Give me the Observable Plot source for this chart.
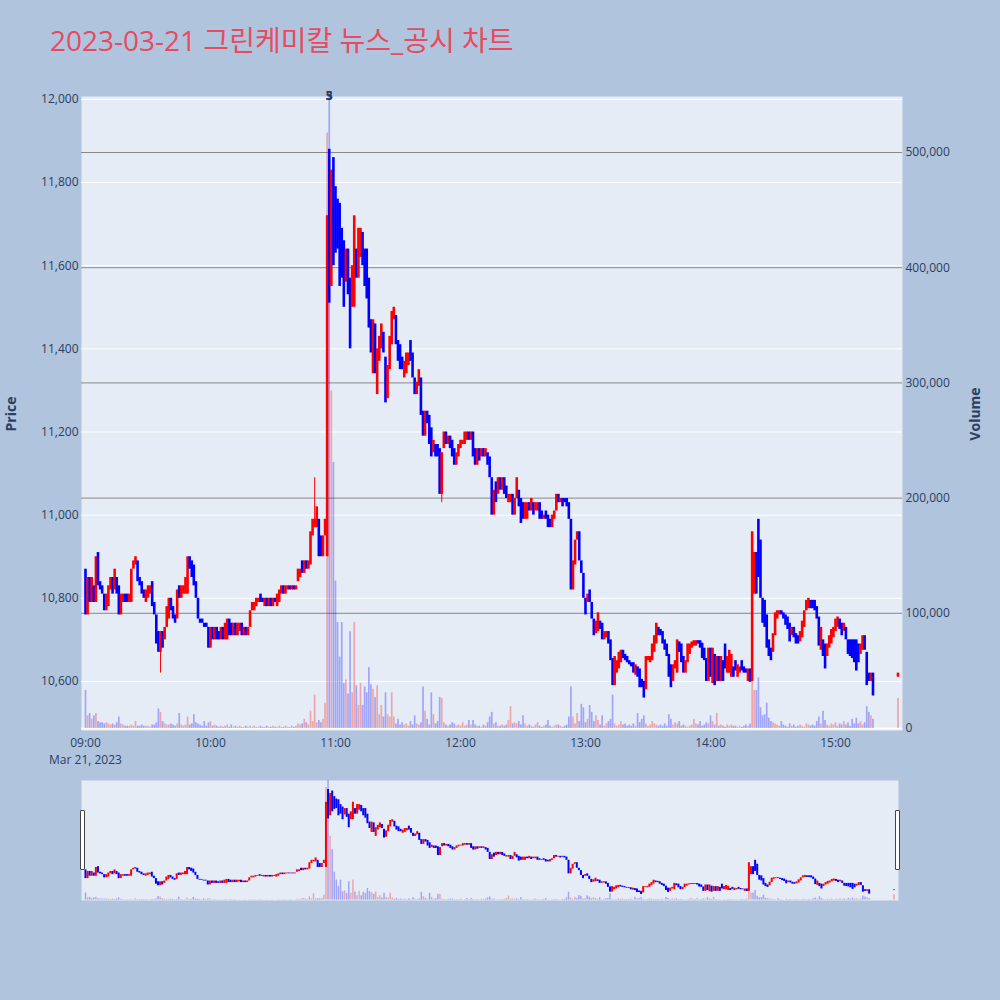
<!DOCTYPE html>
<html><head><meta charset="utf-8">
<script src="https://cdn.jsdelivr.net/npm/d3@7"></script>
<script src="https://cdn.jsdelivr.net/npm/@observablehq/plot@0.6"></script>
<style>
body{margin:0;background:#B0C4DE;}
#wrap{position:relative;width:1000px;height:1000px;background:#B0C4DE;font-family:"Open Sans","Noto Sans CJK KR",sans-serif;overflow:hidden}
.layer{position:absolute;left:0;top:0;width:1000px}
.layer svg{max-width:none !important}
#title{position:absolute;left:50px;top:26px;font-size:28px;line-height:28px;color:#E84A5F;white-space:nowrap;font-family:"Open Sans","Noto Sans CJK KR",sans-serif}
.atitle{position:absolute;font-size:14px;font-weight:bold;color:#2a3f5f;transform:translate(-50%,-50%) rotate(-90deg);white-space:nowrap}
.handle{position:absolute;width:3px;height:58px;background:#fff;border:1px solid #444;border-radius:1px}
</style></head><body>
<div id="wrap">
<div id="title">2023-03-21 그린케미칼 뉴스_공시 차트</div>
<div id="main" class="layer" style="height:770px"></div>
<div id="slider" class="layer" style="top:770px;height:140px"></div>
<div class="atitle" style="left:10px;top:414px">Price</div>
<div class="atitle" style="left:974px;top:414px">Volume</div>
<div class="handle" style="left:80px;top:810px"></div>
<div class="handle" style="left:895px;top:810px"></div>
</div>
<script>
// one-minute candles from 09:00 (index = minute after 09:00)
const opens = [
10870,10760,10850,10790,10830,10790,10910,10840,10830,10810,
10770,10780,10820,10850,10820,10850,10830,10760,10790,10810,
10810,10790,10790,10870,10880,10890,10850,10840,10820,10790,
10800,10810,10840,10790,10760,10720,10670,10720,10700,10730,
10750,10800,10780,10760,10750,10830,10800,10810,10810,10810,
10900,10890,10880,10840,10800,10750,10750,10740,10740,10730,
10680,10730,10700,10730,10720,10700,10730,10700,10700,10750,
10740,10710,10740,10710,10720,10740,10710,10730,10710,10730,
10770,10770,10780,10790,10810,10800,10780,10800,10780,10800,
10780,10800,10780,10790,10810,10830,10810,10820,10830,10820,
10830,10820,10840,10850,10890,10860,10890,10870,10880,10950,
10970,10970,10990,10950,10900,10950,10900,11880,11550,11860,
11790,11760,11750,11690,11660,11560,11640,11570,11500,11500,
11640,11570,11620,11680,11640,11640,11570,11470,11340,11460,
11290,11370,11400,11440,11380,11280,11350,11410,11470,11480,
11420,11410,11380,11330,11340,11360,11420,11390,11330,11290,
11310,11330,11250,11190,11250,11240,11210,11150,11170,11170,
11160,11050,11160,11200,11170,11190,11180,11160,11120,11140,
11160,11170,11170,11180,11200,11180,11200,11160,11120,11160,
11140,11160,11140,11150,11140,11090,11000,11080,11050,11090,
11060,11090,11070,11030,11030,11050,11000,11040,11060,11040,
11030,10990,10990,11030,11010,11030,11010,11010,11030,11010,
10990,11010,11000,10990,10970,10990,11010,11050,11030,11040,
11040,11040,11030,10990,10820,10880,10940,10960,10890,10860,
10800,10790,10820,10790,10750,10715,10720,10745,10740,10700,
10705,10720,10700,10655,10590,10620,10630,10645,10675,10665,
10660,10650,10645,10645,10615,10635,10630,10605,10600,10580,
10650,10645,10650,10670,10690,10730,10725,10720,10700,10690,
10665,10640,10600,10630,10620,10695,10690,10660,10620,10645,
10665,10680,10685,10685,10698,10698,10692,10680,10655,10600,
10680,10595,10665,10600,10660,10600,10650,10690,10620,10620,
10610,10635,10650,10610,10620,10650,10635,10630,10600,10630,
10600,10810,10910,10990,10940,10800,10795,10760,10700,10680,
10670,10710,10750,10760,10770,10765,10760,10755,10740,10710,
10730,10715,10710,10695,10705,10730,10770,10775,10795,10795,
10795,10780,10755,10675,10700,10690,10660,10680,10690,10705,
10720,10730,10750,10740,10720,10730,10700,10700,10700,10700,
10700,10690,10665,10675,10710,10670,10620,10600,10620
];
const closes = [
10760,10850,10790,10850,10790,10900,10830,10820,10810,10770,
10810,10830,10850,10810,10870,10810,10760,10810,10810,10790,
10790,10810,10870,10890,10900,10840,10830,10810,10800,10820,
10830,10830,10780,10760,10690,10670,10720,10680,10730,10780,
10800,10770,10750,10740,10820,10800,10830,10830,10850,10900,
10870,10850,10830,10800,10750,10740,10740,10730,10730,10680,
10730,10700,10730,10700,10700,10730,10700,10740,10750,10710,
10710,10740,10710,10740,10740,10710,10730,10710,10730,10770,
10790,10790,10800,10800,10790,10790,10800,10780,10800,10780,
10800,10790,10810,10820,10830,10810,10830,10830,10820,10830,
10820,10830,10870,10870,10860,10890,10870,10890,10960,10990,
10990,11020,10900,10900,10950,10990,11720,11510,11830,11600,
11630,11640,11550,11570,11500,11640,11530,11400,11600,11720,
11570,11690,11690,11600,11550,11520,11450,11390,11470,11340,
11400,11430,11460,11390,11270,11360,11430,11490,11500,11410,
11370,11350,11350,11370,11390,11390,11370,11330,11290,11320,
11350,11240,11190,11250,11220,11170,11140,11180,11140,11140,
11050,11150,11200,11170,11190,11160,11140,11120,11150,11170,
11180,11180,11200,11200,11180,11200,11140,11120,11160,11130,
11160,11140,11160,11120,11090,11000,11060,11030,11090,11060,
11090,11050,11040,11050,11050,11000,11040,11090,11020,10980,
10990,11030,11030,11010,11040,11000,11030,11030,10990,10990,
11000,10990,10970,10970,11000,11010,11050,11030,11040,11020,
11030,11020,10990,10820,10890,10940,10960,10890,10860,10800,
10760,10810,10790,10750,10710,10745,10765,10725,10700,10720,
10720,10690,10650,10590,10660,10650,10670,10675,10655,10650,
10645,10640,10635,10620,10640,10610,10585,10585,10560,10660,
10660,10660,10690,10710,10740,10710,10710,10690,10675,10660,
10610,10585,10640,10650,10700,10670,10645,10620,10650,10690,
10690,10695,10698,10698,10690,10680,10655,10650,10600,10680,
10610,10680,10590,10660,10600,10660,10600,10630,10660,10675,
10665,10610,10625,10640,10635,10625,10620,10620,10630,10598,
10960,10910,10810,10850,10800,10740,10730,10680,10660,10650,
10715,10765,10770,10770,10760,10750,10735,10725,10695,10730,
10705,10690,10690,10720,10745,10770,10795,10800,10775,10775,
10770,10750,10685,10730,10660,10630,10690,10710,10725,10730,
10750,10755,10725,10710,10740,10700,10665,10660,10655,10645,
10625,10645,10690,10710,10675,10590,10600,10620,10565
];
// volume per minute, thousands of shares
const volumesK = [
33,11,13,8,11,13,6,5,5,4,
5,4,3,4,3,5,10,4,3,2,
2,2,3,2,6,2,2,3,2,2,
2,1,3,3,5,17,14,6,4,3,
3,4,3,2,4,13,3,2,3,10,
3,4,12,5,4,3,2,6,2,5,
6,2,3,2,1,2,1,2,3,1,
3,1,2,1,2,1,1,2,1,2,
1,2,1,1,2,1,1,2,1,1,
2,1,1,2,1,1,2,1,1,2,
1,2,4,3,4,8,5,3,15,6,
29,5,7,5,8,22,517,570,293,231,
128,92,62,92,39,42,30,84,31,92,
37,20,39,20,36,31,53,38,34,27,
37,12,20,10,31,12,10,31,10,4,
8,3,5,3,4,2,6,3,11,4,
3,5,36,15,8,3,31,12,4,6,
27,26,5,3,2,3,5,4,2,3,
2,5,2,3,7,3,7,3,2,2,
1,3,2,5,10,14,4,5,2,2,
3,2,3,7,19,4,5,4,6,3,
11,4,2,3,2,1,3,5,2,1,
2,3,7,2,1,2,3,3,2,1,
2,3,10,36,10,4,13,6,21,18,
5,8,20,14,6,11,7,3,11,2,
4,6,8,29,4,2,3,6,3,4,
2,3,2,4,2,13,5,8,11,4,
2,3,6,4,3,2,3,2,4,2,
12,8,3,5,4,6,2,3,2,1,
2,3,8,4,3,6,2,3,5,4,
11,6,3,13,2,3,2,1,3,2,
3,2,2,1,2,1,2,3,2,4,
44,33,33,44,18,11,12,22,9,6,
5,4,3,2,6,3,2,1,4,2,
3,1,2,3,2,1,4,3,2,3,
2,6,10,4,15,7,3,2,4,3,
5,2,4,3,6,3,5,2,8,4,
9,4,6,3,5,19,14,11,8
];
// closing auction
const auctionTime = "15:30", auctionOpen = 10610, auctionClose = 10620, auctionVolK = 26;
// visible wicks
const wickTimes = ["09:36", "10:50", "11:51"];
const wickLows = [10620, 10970, 11030];
const wickHighs = [10720, 11090, 11150];
// ticks
const priceTicks = [10600, 10800, 11000, 11200, 11400, 11600, 11800, 12000];
const volumeTicks = [0, 100000, 200000, 300000, 400000, 500000];
const hourTicks = ["09:00", "10:00", "11:00", "12:00", "13:00", "14:00", "15:00"];
const newsTime = "10:57";
const newsLabels = ["3", "5"];

function at(hhmm) { const [h, m] = hhmm.split(":").map(Number); return new Date(Date.UTC(2023, 2, 21, h, m)); }
const n = Math.min(opens.length, closes.length, volumesK.length);
const bars = d3.range(n).map(i => ({t: new Date(Date.UTC(2023, 2, 21, 9, i)), o: opens[i], c: closes[i], v: volumesK[i] * 1000}));
bars.push({t: at(auctionTime), o: auctionOpen, c: auctionClose, v: auctionVolK * 1000});
bars.forEach(d => { d.col = d.c >= d.o ? "#ff0000" : "#0000ff"; });
const wicks = wickTimes.map((t, i) => ({t: at(t), lo: wickLows[i], hi: wickHighs[i]}));
wicks.forEach(w => { const b = bars.find(d => +d.t === +w.t); w.col = b ? b.col : "#ff0000"; });

const xDomain = [new Date(Date.UTC(2023, 2, 21, 8, 58, 5)), new Date(Date.UTC(2023, 2, 21, 15, 32, 10))];
const priceDomain = [10482, 12007];
const volDomain = [-1736, 548611];
const style = {background: "transparent", fontFamily: '"Open Sans", sans-serif', fontSize: "12px", color: "#2a3f5f", overflow: "visible"};
const mainDims = {width: 1000, height: 770, marginLeft: 81, marginRight: 98, marginTop: 96, marginBottom: 40, style};
const fmtH = d3.utcFormat("%H:%M");

const volGrid = Plot.plot({...mainDims,
  x: {type: "utc", domain: xDomain, axis: null},
  y: {domain: volDomain},
  marks: [
    Plot.frame({fill: "#E5ECF6", stroke: "none"}),
    Plot.ruleY(volumeTicks.filter(v => v > 0), {stroke: "#888888", strokeWidth: 1}),
    Plot.ruleY([0], {stroke: "#ffffff", strokeWidth: 2}),
    Plot.axisY(volumeTicks, {anchor: "right", tickSize: 0, tickPadding: 3, tickFormat: d3.format(","), label: null, fill: "#2a3f5f"})
  ]
});
const pricePlot = Plot.plot({...mainDims,
  x: {type: "utc", domain: xDomain},
  y: {domain: priceDomain},
  color: {type: "identity"},
  marks: [
    Plot.ruleY(priceTicks, {stroke: "#ffffff", strokeWidth: 1}),
    Plot.ruleX(wicks, {x: "t", y1: "lo", y2: "hi", stroke: "col", strokeWidth: 1, clip: true}),
    Plot.ruleX(bars, {x: "t", y1: "o", y2: "c", stroke: "col", strokeWidth: 2.6, clip: true}),
    Plot.axisY(priceTicks, {anchor: "left", tickSize: 0, tickPadding: 3, tickFormat: d3.format(","), label: null, fill: "#2a3f5f"}),
    Plot.axisX(hourTicks.map(at), {tickSize: 0, tickPadding: 5, lineHeight: 1.4, label: null, fill: "#2a3f5f",
      tickFormat: d => +d === +at("09:00") ? "09:00\nMar 21, 2023" : fmtH(d)}),
    Plot.text(newsLabels, {x: () => at(newsTime), y: () => priceDomain[1], text: d => d, fill: "#2a3f5f", fontSize: 12, fontWeight: "bold"})
  ]
});
const volBars = Plot.plot({...mainDims,
  x: {type: "utc", domain: xDomain, axis: null},
  y: {domain: volDomain, axis: null},
  color: {type: "identity"},
  marks: [
    Plot.ruleX(bars, {x: "t", y1: 0, y2: "v", stroke: "col", strokeOpacity: 0.3, strokeWidth: 1.7, clip: true})
  ]
});
const main = document.getElementById("main");
for (const el of [volGrid, pricePlot, volBars]) { el.style.position = "absolute"; el.style.left = "0"; el.style.top = "0"; el.style.maxWidth = "none"; main.appendChild(el); }

// range slider
const sliderDims = {width: 1000, height: 140, marginLeft: 81, marginRight: 102, marginTop: 10, marginBottom: 10, style};
const sPrice = Plot.plot({...sliderDims,
  x: {type: "utc", domain: xDomain, axis: null},
  y: {domain: [10485, 11993], axis: null},
  color: {type: "identity"},
  marks: [
    Plot.frame({fill: "#E5ECF6", stroke: "none"}),
    Plot.ruleX(bars, {x: "t", y1: "o", y2: "c", stroke: "col", strokeWidth: 2, clip: true})
  ]
});
const sVol = Plot.plot({...sliderDims,
  x: {type: "utc", domain: xDomain, axis: null},
  y: {domain: volDomain, axis: null},
  color: {type: "identity"},
  marks: [
    Plot.ruleX(bars, {x: "t", y1: 0, y2: "v", stroke: "col", strokeOpacity: 0.3, strokeWidth: 1.5, clip: true})
  ]
});
const slider = document.getElementById("slider");
for (const el of [sPrice, sVol]) { el.style.position = "absolute"; el.style.left = "0"; el.style.top = "0"; el.style.maxWidth = "none"; slider.appendChild(el); }
</script>
</body></html>
